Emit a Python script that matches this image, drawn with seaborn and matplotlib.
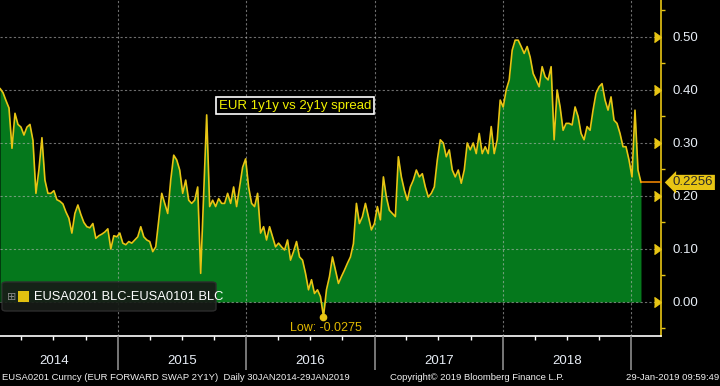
import numpy as np
import pandas as pd
import matplotlib
matplotlib.use("Agg")
import matplotlib.pyplot as plt
import matplotlib.dates as mdates
import matplotlib.ticker as mticker
import matplotlib.transforms as mtrans
from matplotlib.patches import FancyBboxPatch, Rectangle
import seaborn as sns

# ---------------- data ----------------
start_date = "2014-01-30"
end_date = "2019-01-29"
spread = [
    0.403, 0.395, 0.38, 0.366, 0.29, 0.356, 0.335, 0.33, 0.315, 0.33,
    0.335, 0.305, 0.205, 0.25, 0.31, 0.23, 0.205, 0.205, 0.21, 0.193,
    0.19, 0.185, 0.17, 0.158, 0.13, 0.167, 0.183, 0.165, 0.15, 0.142,
    0.14, 0.148, 0.12, 0.125, 0.128, 0.132, 0.138, 0.10, 0.125, 0.123,
    0.13, 0.111, 0.108, 0.114, 0.111, 0.117, 0.123, 0.142, 0.123, 0.117,
    0.114, 0.095, 0.104, 0.155, 0.205, 0.186, 0.167, 0.23, 0.277, 0.268,
    0.249, 0.205, 0.23, 0.192, 0.186, 0.192, 0.217, 0.054, 0.205, 0.353,
    0.18, 0.192, 0.18, 0.195, 0.186, 0.186, 0.205, 0.186, 0.217, 0.18,
    0.217, 0.254, 0.27, 0.217, 0.186, 0.18, 0.205, 0.13, 0.142, 0.117,
    0.142, 0.123, 0.104, 0.111, 0.104, 0.098, 0.117, 0.079, 0.095, 0.114,
    0.085, 0.079, 0.054, 0.023, 0.042, 0.016, 0.023, 0.01, -0.0275, 0.023,
    0.048, 0.085, 0.06, 0.035, 0.048, 0.06, 0.073, 0.085, 0.11, 0.186,
    0.148, 0.161, 0.186, 0.161, 0.136, 0.148, 0.18, 0.155, 0.236, 0.198,
    0.173, 0.167, 0.161, 0.274, 0.236, 0.211, 0.192, 0.217, 0.23, 0.249,
    0.236, 0.242, 0.217, 0.198, 0.205, 0.217, 0.268, 0.306, 0.30, 0.274,
    0.287, 0.249, 0.236, 0.249, 0.224, 0.249, 0.30, 0.287, 0.30, 0.28,
    0.318, 0.28, 0.293, 0.28, 0.331, 0.28, 0.306, 0.381, 0.368, 0.40,
    0.419, 0.475, 0.494, 0.494, 0.482, 0.469, 0.482, 0.462, 0.431, 0.419,
    0.406, 0.444, 0.425, 0.419, 0.444, 0.306, 0.40, 0.368, 0.324, 0.337,
    0.337, 0.334, 0.368, 0.35, 0.318, 0.306, 0.331, 0.324, 0.362, 0.394,
    0.406, 0.412, 0.381, 0.362, 0.387, 0.343, 0.337, 0.318, 0.293, 0.293,
    0.268, 0.236, 0.362, 0.249, 0.2256,
]
year_labels = ["2014", "2015", "2016", "2017", "2018"]
year_bounds = ["2015-01-01", "2016-01-01", "2017-01-01", "2018-01-01", "2019-01-01"]
ytick_vals = [0.0, 0.1, 0.2, 0.3, 0.4, 0.5]
series_label = "EUSA0201 BLC-EUSA0101 BLC"
title_text = "EUR 1y1y vs 2y1y spread"
footer_left = "EUSA0201 Curncy (EUR FORWARD SWAP 2Y1Y)  Daily 30JAN2014-29JAN2019"
footer_mid = "Copyright\u00a9 2019 Bloomberg Finance L.P."
footer_right = "29-Jan-2019 09:59:49"

dates = pd.date_range(start_date, end_date, periods=len(spread))
df = pd.DataFrame({"date": dates, "spread": spread})

# ---------------- style ----------------
sns.set_theme(style="dark")
plt.rcParams['font.family'] = ['Liberation Sans', 'DejaVu Sans']

GREEN = "#05781c"
YELLOW = "#e8c514"
LABEL = "#e8eef6"
W, H = 720, 386

fig = plt.figure(figsize=(7.2, 3.86), dpi=100, facecolor="black")
ax = fig.add_axes([0, 50 / H, 661 / W, 336 / H])
ax.set_facecolor("black")

ax.fill_between(df["date"], df["spread"], 0, color=GREEN, lw=0, zorder=1)
sns.lineplot(data=df, x="date", y="spread", color=YELLOW, lw=1.2, ax=ax, zorder=3)

xmin = pd.Timestamp(start_date)
xmax = pd.Timestamp("2019-03-27")
ax.set_xlim(xmin, xmax)
ax.set_ylim(-0.0642, 0.5698)
ax.set_xlabel("")
ax.set_ylabel("")

# grid
ax.set_axisbelow(False)
ax.grid(True, which="major", color="#b8b8b8", alpha=0.6, lw=0.8, ls=(0, (2, 2)))

# x axis
ax.xaxis.set_major_locator(mticker.FixedLocator(mdates.date2num(pd.to_datetime(year_bounds))))
ax.xaxis.set_minor_locator(mdates.MonthLocator(bymonth=[1, 4, 7, 10]))
ax.tick_params(axis="x", which="both", bottom=True, top=False)
ax.tick_params(axis="x", which="major", length=24.5, width=1.2, color="#8c8c8c",
               labelbottom=False, direction="out")
ax.tick_params(axis="x", which="minor", length=3, width=1, color="white", direction="out")

# y axis on right
ax.yaxis.tick_right()
ax.yaxis.set_major_locator(mticker.FixedLocator(ytick_vals))
ax.yaxis.set_major_formatter(mticker.FormatStrFormatter("%.2f"))
ax.yaxis.set_minor_locator(mticker.FixedLocator(np.arange(-0.05, 0.56, 0.1)))
ax.tick_params(axis="y", which="both", right=True, left=False, labelleft=False)
ax.tick_params(axis="y", which="major", length=0, pad=8, labelsize=9.5, labelcolor=LABEL)
ax.tick_params(axis="y", which="minor", length=3, width=1, color=YELLOW, direction="out")

blend_y = mtrans.blended_transform_factory(ax.transAxes, ax.transData)
ax.plot([1] * len(ytick_vals), ytick_vals, ls="none", marker=5, ms=7, color=YELLOW,
        transform=blend_y, clip_on=False, zorder=5)

for s in ["left", "top"]:
    ax.spines[s].set_visible(False)
ax.spines["bottom"].set_color("white")
ax.spines["bottom"].set_linewidth(1.2)
ax.spines["right"].set_color(YELLOW)
ax.spines["right"].set_linewidth(1.2)

# year labels
blend_x = mtrans.blended_transform_factory(ax.transData, ax.transAxes)
for lab in year_labels:
    mid = pd.Timestamp(f"{lab}-07-02")
    ax.text(mid, -0.0744, lab, transform=blend_x, ha="center", va="center",
            fontsize=9.5, color=LABEL, clip_on=False)

# last value marker
last_val = spread[-1]
ax.plot([dates[-1], xmax], [last_val, last_val], color="#ff8c00", lw=1.1, zorder=4,
        clip_on=False)
ax.annotate(f"{last_val:.4f}", xy=(1, last_val), xycoords=blend_y,
            xytext=(8.5, 0), textcoords="offset points", ha="left", va="center",
            fontsize=9.5, color="#2a2a2a", annotation_clip=False,
            bbox=dict(boxstyle="larrow,pad=0.12", fc=YELLOW, ec="none"))

# low annotation
imin = int(np.argmin(spread))
ax.plot(dates[imin], spread[imin], "o", color=YELLOW, ms=4.5, zorder=6)
ax.annotate(f"Low: {spread[imin]:.4f}", xy=(dates[imin], spread[imin]),
            xytext=(1.5, -8.5), textcoords="offset points", ha="center", va="center",
            fontsize=9, color="#e0b800", annotation_clip=False)

# title box
fig.text(219 / W, 1 - 105.5 / H, title_text, ha="left", va="center", fontsize=9.5,
         color="#f2f200",
         bbox=dict(boxstyle="square,pad=0.2", fc="black", ec="white", lw=1.2))

# legend box
leg = FancyBboxPatch((2 / W, 1 - 311 / H), 214 / W, 29 / H,
                     boxstyle="round,pad=0,rounding_size=0.006",
                     transform=fig.transFigure, fc=(0.09, 0.11, 0.09, 0.92),
                     ec="#2c2c2c", lw=1, zorder=10)
fig.add_artist(leg)
fig.add_artist(Rectangle((18 / W, 1 - 302 / H), 11 / W, 11 / H, transform=fig.transFigure,
                         fc="#e0c010", ec="none", zorder=11))
fig.text(11.5 / W, 1 - 297 / H, "\u229e", ha="center", va="center", fontsize=8,
         color="#8a8a8a", family=["DejaVu Sans"], zorder=11)
fig.text(34 / W, 1 - 297 / H, series_label, ha="left", va="center", fontsize=9.3,
         color="white", zorder=11)

# footer
fig.text(2 / W, 1 - 378 / H, footer_left, ha="left", va="center", fontsize=6.8, color="#f0f0f0")
fig.text(390 / W, 1 - 378 / H, footer_mid, ha="left", va="center", fontsize=6.8, color="#f0f0f0")
fig.text(719 / W, 1 - 378 / H, footer_right, ha="right", va="center", fontsize=6.8, color="#f0f0f0")

fig.savefig("out.png", dpi=100, facecolor="black")
